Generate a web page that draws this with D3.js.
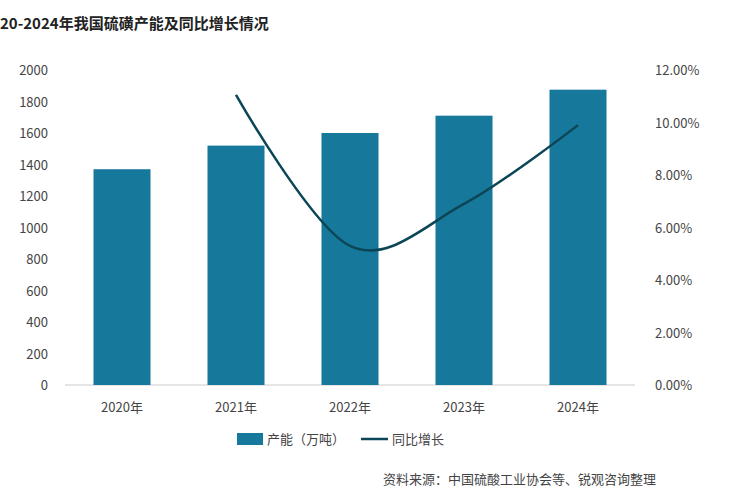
<!DOCTYPE html>
<html><head><meta charset="utf-8">
<script src="https://cdn.jsdelivr.net/npm/d3@7"></script>
<style>body{margin:0;background:#fff}svg{font-family:"Noto Sans CJK SC","Noto Sans",sans-serif}</style>
</head><body><svg width="750" height="500"></svg>
<script>
const years = ["2020年","2021年","2022年","2023年","2024年"];
const capacity = [1370,1520,1600,1710,1875];
const growth = [null,11.05,5.3,6.9,9.9];
const leftTicks = [0,200,400,600,800,1000,1200,1400,1600,1800,2000];
const rightTicks = [0,2,4,6,8,10,12];

const svg = d3.select("svg");
const x = d3.scaleBand().domain(years).range([65,635]).paddingInner(0.5).paddingOuter(0.25);
const yL = d3.scaleLinear().domain([0,2000]).range([385,70]);
const yR = d3.scaleLinear().domain([0,12]).range([385,70]);

svg.append("text").attr("x",0).attr("y",29).attr("font-size",15).attr("font-weight","bold")
  .attr("fill","#222").text("20-2024年我国硫磺产能及同比增长情况");

svg.append("g").selectAll("text").data(leftTicks).join("text")
  .attr("x",48).attr("y",d=>yL(d)+5).attr("text-anchor","end").attr("font-size",13).attr("fill","#444").text(d=>d);
svg.append("g").selectAll("text").data(rightTicks).join("text")
  .attr("x",655).attr("y",d=>yR(d)+5).attr("font-size",13).attr("fill","#444").text(d=>d.toFixed(2)+"%");

svg.append("line").attr("x1",65).attr("x2",635).attr("y1",385).attr("y2",385).attr("stroke","#ccc");

svg.append("g").selectAll("rect").data(capacity).join("rect")
  .attr("x",(d,i)=>x(years[i])).attr("width",x.bandwidth())
  .attr("y",d=>yL(d)).attr("height",d=>385-yL(d)).attr("fill","#16789a");

svg.append("g").selectAll("text").data(years).join("text")
  .attr("x",d=>x(d)+x.bandwidth()/2).attr("y",412).attr("text-anchor","middle")
  .attr("font-size",13).attr("fill","#444").text(d=>d);

const pts = growth.map((g,i)=>[x(years[i])+x.bandwidth()/2,g]).filter(p=>p[1]!=null);
svg.append("path").datum(pts).attr("fill","none").attr("stroke","#0b4656").attr("stroke-width",2.5)
  .attr("d",d3.line().x(p=>p[0]).y(p=>yR(p[1])).curve(d3.curveCardinal.tension(0)));

const lg = svg.append("g").attr("font-size",13).attr("fill","#444");
lg.append("rect").attr("x",237).attr("y",433).attr("width",26).attr("height",12).attr("fill","#16789a");
lg.append("text").attr("x",267).attr("y",444).text("产能（万吨）");
lg.append("line").attr("x1",361).attr("x2",388).attr("y1",439).attr("y2",439).attr("stroke","#0b4656").attr("stroke-width",2.5);
lg.append("text").attr("x",392).attr("y",444).text("同比增长");

svg.append("text").attr("x",383).attr("y",484).attr("font-size",13).attr("fill","#444")
  .text("资料来源：中国硫酸工业协会等、锐观咨询整理");
</script></body></html>
